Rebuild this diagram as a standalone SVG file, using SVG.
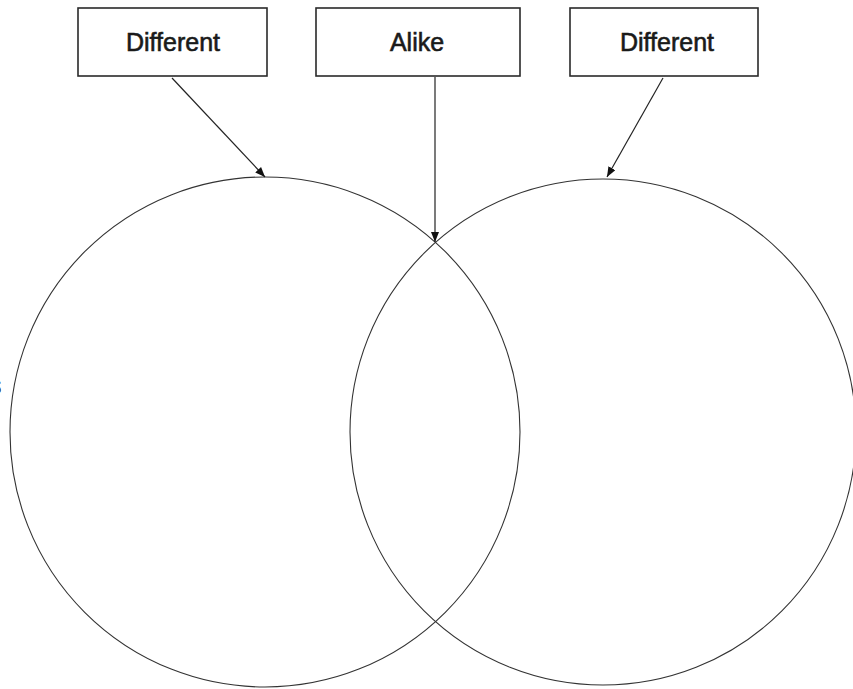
<svg xmlns="http://www.w3.org/2000/svg" width="853" height="689" viewBox="0 0 853 689">
  <style>
    .box { fill: #ffffff; stroke: #2a2a2a; stroke-width: 1.6; }
    .label { font-family: "Liberation Sans", Arial, sans-serif; font-size: 25px; fill: #1a1a1a; stroke: #1a1a1a; stroke-width: 0.6; text-anchor: middle; }
    .ring { fill: none; stroke: #333333; stroke-width: 1.1; }
    .link { stroke: #222222; stroke-width: 1.2; fill: none; marker-end: url(#head); }
  </style>
  <defs>
    <marker id="head" viewBox="0 0 10 8" refX="10" refY="4" markerWidth="10" markerHeight="8" markerUnits="userSpaceOnUse" orient="auto">
      <path d="M0,0 L10,4 L0,8 Z" fill="#111111"/>
    </marker>
  </defs>
  <rect width="853" height="689" fill="#ffffff"/>

  <!-- overlapping circles -->
  <g id="circle-left">
    <circle class="ring" cx="265" cy="432" r="255"/>
  </g>
  <g id="circle-right">
    <circle class="ring" cx="603" cy="432" r="253"/>
  </g>

  <!-- edge fragment of a clipped letter -->
  <text class="label" x="-5" y="394">s</text>

  <g id="box-different-left">
    <rect class="box" x="78" y="8" width="189" height="68"/>
    <text class="label" x="173" y="51">Different</text>
  </g>
  <g id="box-alike">
    <rect class="box" x="316" y="8" width="204" height="68"/>
    <text class="label" x="417" y="51">Alike</text>
  </g>
  <g id="box-different-right">
    <rect class="box" x="570" y="8" width="188" height="68"/>
    <text class="label" x="667" y="51">Different</text>
  </g>

  <g id="connectors">
    <line class="link" x1="172" y1="78" x2="265" y2="177"/>
    <line class="link" x1="435" y1="77" x2="435" y2="242"/>
    <line class="link" x1="663" y1="78" x2="607" y2="177"/>
  </g>
</svg>
